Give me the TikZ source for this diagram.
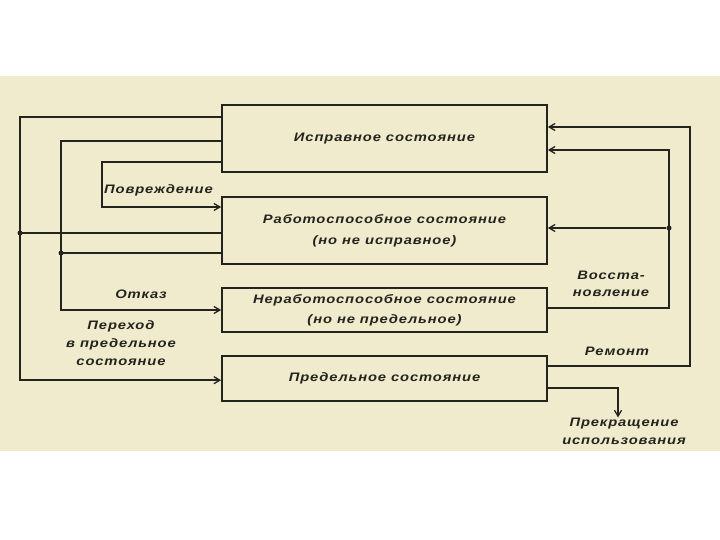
\documentclass[tikz,border=0pt]{standalone}
\usepackage{fontspec}
\setmainfont{Liberation Sans}[BoldItalicFeatures={LetterSpace=7,FakeStretch=1.2}]
\usetikzlibrary{arrows.meta}
\definecolor{paper}{RGB}{240,235,204}
\definecolor{ink}{RGB}{36,36,30}
\tikzset{
  stbox/.style={draw=ink, line width=1.7pt, minimum width=325pt, inner sep=0pt, align=center, font=\bfseries\itshape\fontsize{12.3}{21}\selectfont, text=ink},
  conn/.style={draw=ink, line width=1.7pt},
  arr/.style={conn, -{Straight Barb[length=6pt,width=7pt,line width=1.3pt]}},
  lbl/.style={font=\bfseries\itshape\fontsize{12.3}{18}\selectfont, text=ink, align=center, inner sep=0pt},
  jdot/.style={circle, fill=ink, inner sep=0pt, minimum size=5pt}
}
\begin{document}
\begin{tikzpicture}[x=1pt,y=-1pt]
\useasboundingbox (0,0) rectangle (720,540);
\fill[white] (0,0) rectangle (720,540);
\fill[paper] (0,76) rectangle (720,451);
% boxes
\node[stbox, minimum height=67pt] (b1) at (384.5,138.5) {Исправное состояние};
\node[stbox, minimum height=67pt] (b2) at (384.5,230.5) {Работоспособное состояние\\(но не исправное)};
\node[stbox, minimum height=44pt, font=\bfseries\itshape\fontsize{12.3}{20}\selectfont] (b3) at (384.5,310) {Неработоспособное состояние\\(но не предельное)};
\node[stbox, minimum height=45pt] (b4) at (384.5,378.5) {Предельное состояние};
% corner coordinates
\coordinate (xa) at (20,0);
\coordinate (xb) at (61,0);
\coordinate (xc) at (102,0);
\coordinate (xe) at (669,0);
\coordinate (xd) at (690,0);
% left side
\draw[arr] (b1.west |- 0,117) -| (xa |- 0,380.2) -- (b4.west |- 0,380.2);
\draw[conn] (b2.west |- 0,233) -- (xa |- 0,233);
\node[jdot] (ja) at (xa |- 0,233) {};
\draw[arr] (b1.west |- 0,141) -| (xb |- b3.west) -- (b3.west);
\draw[conn] (b2.west |- 0,253) -- (xb |- 0,253);
\node[jdot] (jb) at (xb |- 0,253) {};
\draw[arr] (b1.west |- 0,162) -| (xc |- 0,207) -- (b2.west |- 0,207);
% right side
\draw[arr] (b4.east |- 0,366) -| (xd |- 0,127) -- (b1.east |- 0,127);
\draw[arr] (b3.east |- 0,308) -| (xe |- 0,150) -- (b1.east |- 0,150);
\node[jdot] (je) at (xe |- 0,228) {};
\draw[arr] (je) -- (b2.east |- je);
% labels
\node[lbl, anchor=west] (lp) at (104,190) {Повреждение};
\node[lbl] (lo) at (141,294) {Отказ};
\node[lbl] (lt) at (121,343) {Переход\\в предельное\\состояние};
\node[lbl, font=\bfseries\itshape\fontsize{12.3}{17}\selectfont] (lv) at (611,284) {Восста-\\новление};
\node[lbl] (lr) at (617,351) {Ремонт};
\node[lbl] (stop) at (624,431) {Прекращение\\использования};
\draw[arr] (b4.east |- 0,388) -| ([xshift=-6pt]stop.north);
\end{tikzpicture}
\end{document}
